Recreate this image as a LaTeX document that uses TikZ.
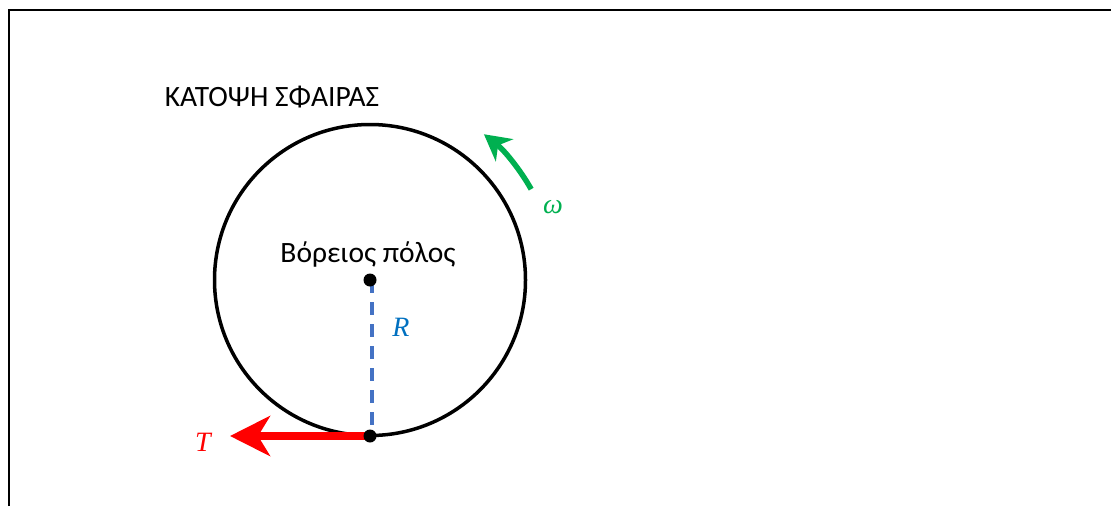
\documentclass[tikz,border=0pt]{standalone}
\usepackage{fontspec}
\setmainfont{Carlito}
\newfontfamily\mathlike{Liberation Serif}
\usetikzlibrary{arrows.meta}
\definecolor{myblue}{HTML}{4472C4}
\definecolor{labblue}{HTML}{0070C0}
\definecolor{mygreen}{HTML}{00B050}
\definecolor{myred}{HTML}{FF0000}
\tikzset{
  lbl/.style={inner sep=0pt, font=\fontsize{29.5}{32}\selectfont},
  mlbl/.style={inner sep=0pt, font=\mathlike\itshape\fontsize{28}{30}\selectfont},
  dotn/.style={circle, fill=black, inner sep=0pt, minimum size=13pt},
}
\begin{document}
\begin{tikzpicture}[x=1pt,y=-1pt]
\useasboundingbox (0,0) rectangle (1111,506);
\draw[line width=2.5pt] (9,506) -- (9,10) -- (1111,10);
\node[lbl] (title) at (272,97) {ΚΑΤΟΨΗ ΣΦΑΙΡΑΣ};
\coordinate (C) at (370,280);
\coordinate (B) at (370,436);
\draw[line width=3.5pt] (C) circle[radius=155.5];
\node[lbl, anchor=base] (np) at (368,262) {Βόρειος πόλος};
\draw[myblue, line width=3.5pt, dash pattern=on 13pt off 9pt] ([xshift=2pt]C) -- ([xshift=2pt]B);
\node[mlbl, text=labblue] (R) at (401,327) {R};
\coordinate (Tend) at (230,436);
\draw[myred, line width=8pt, -{Stealth[length=40pt,width=40pt,inset=12pt]}] (B) -- (Tend);
\node[mlbl, text=myred] (T) at (203,442) {T};
\node[dotn] (c0) at (C) {};
\node[dotn] (b0) at (B) {};
\draw[mygreen, line width=5.5pt, -{Stealth[length=26pt,width=28pt,inset=8pt]}] ([shift={(370,280)}]-29.4:185) arc[start angle=-29.4, end angle=-52, radius=185];
\node[mlbl, text=mygreen] (w) at (553,207) {ω};
\end{tikzpicture}
\end{document}
